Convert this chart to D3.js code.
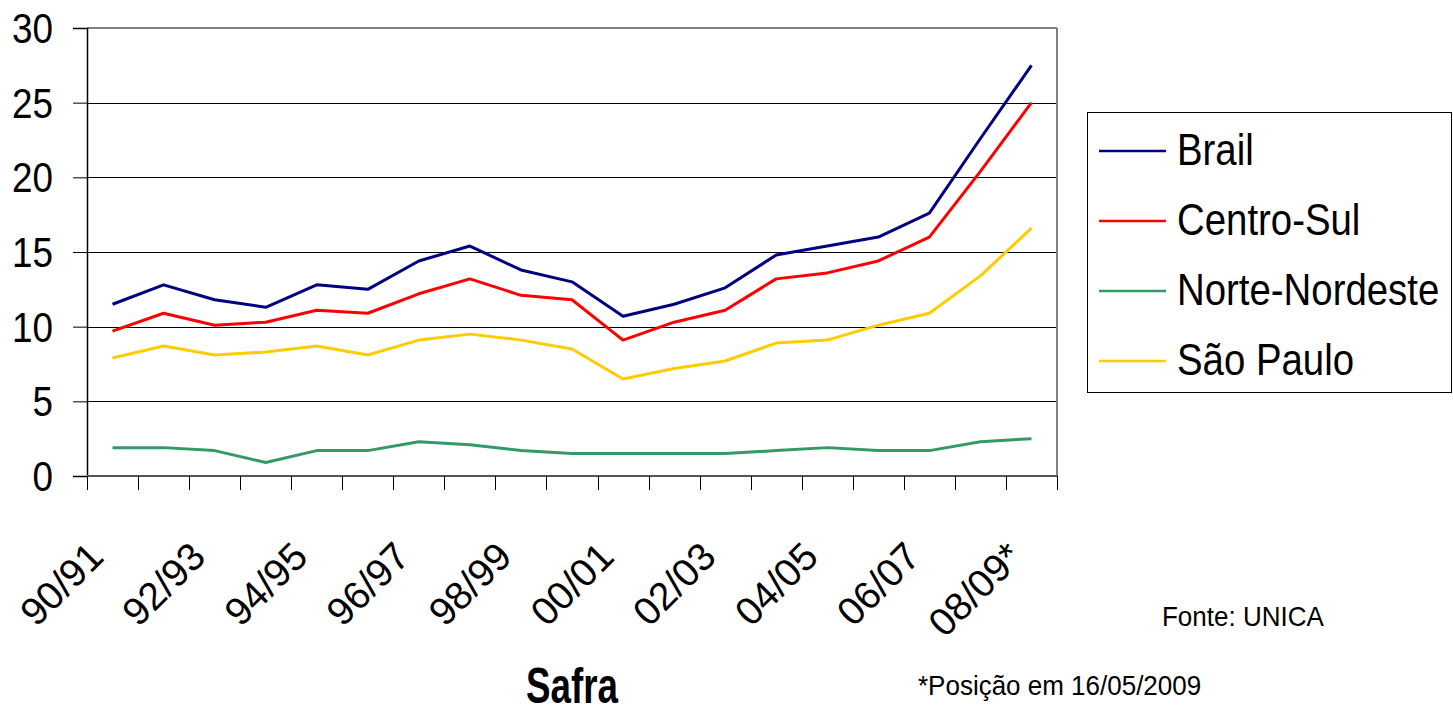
<!DOCTYPE html>
<html><head><meta charset="utf-8">
<script src="https://cdn.jsdelivr.net/npm/d3@7"></script>
<style>body{margin:0;background:#fff;} text{font-family:Arial,"Liberation Sans",sans-serif;fill:#000;}</style>
</head><body>
<svg id="chart" width="1453" height="715"></svg>
<script>
const categories = ["90/91","91/92","92/93","93/94","94/95","95/96","96/97","97/98","98/99","99/00","00/01","01/02","02/03","03/04","04/05","05/06","06/07","07/08","08/09*"];
const brasil        = [11.5, 12.8, 11.8, 11.3, 12.8, 12.5, 14.4, 15.4, 13.8, 13.0, 10.7, 11.5, 12.6, 14.8, 15.4, 16.0, 17.6, 22.6, 27.5];
const centroSul     = [9.7, 10.9, 10.1, 10.3, 11.1, 10.9, 12.2, 13.2, 12.1, 11.8, 9.1, 10.3, 11.1, 13.2, 13.6, 14.4, 16.0, 20.4, 25.0];
const norteNordeste = [1.9, 1.9, 1.7, 0.9, 1.7, 1.7, 2.3, 2.1, 1.7, 1.5, 1.5, 1.5, 1.5, 1.7, 1.9, 1.7, 1.7, 2.3, 2.5];
const saoPaulo      = [7.9, 8.7, 8.1, 8.3, 8.7, 8.1, 9.1, 9.5, 9.1, 8.5, 6.5, 7.2, 7.7, 8.9, 9.1, 10.1, 10.9, 13.4, 16.6];
const seriesNames   = ["Brail", "Centro-Sul", "Norte-Nordeste", "São Paulo"];
const seriesColors  = ["#000080", "#FF0000", "#339966", "#FFCC00"];
const yTicks        = [0, 5, 10, 15, 20, 25, 30];
const xLabelShown   = ["90/91","92/93","94/95","96/97","98/99","00/01","02/03","04/05","06/07","08/09*"];
const xTitle = "Safra";
const sourceNote = "Fonte: UNICA";
const dateNote = "*Posição em 16/05/2009";

const seriesData = [brasil, centroSul, norteNordeste, saoPaulo];
const svg = d3.select("#chart");
const L = 87, R = 1057, T = 28, B = 476;
const x = d3.scaleBand().domain(categories).range([L, R]);
const y = d3.scaleLinear().domain([0, 30]).range([B, T]);

function sText(g, px, py, str, size, sx, sy, anchor, weight) {
  return g.append("text")
    .attr("transform", `translate(${px},${py}) scale(${sx},${sy})`)
    .attr("text-anchor", anchor || "start")
    .style("font-size", size + "px")
    .style("font-weight", weight || "normal")
    .text(str);
}

// gridlines
svg.append("g").selectAll("line").data(yTicks.filter(t => t > 0 && t < 30)).join("line")
  .attr("x1", L).attr("x2", R).attr("y1", d => Math.round(y(d)) + 0.5).attr("y2", d => Math.round(y(d)) + 0.5)
  .attr("stroke", "#000").attr("stroke-width", 1);
// top and right border
svg.append("line").attr("x1", L).attr("x2", R).attr("y1", y(30)).attr("y2", y(30)).attr("stroke", "#808080").attr("stroke-width", 2);
svg.append("line").attr("x1", R).attr("x2", R).attr("y1", y(30)).attr("y2", y(0)).attr("stroke", "#808080").attr("stroke-width", 2);

// y axis
const yAxis = svg.append("g").attr("transform", `translate(${L},0)`)
  .call(d3.axisLeft(y).tickValues(yTicks).tickSize(14).tickFormat(""));
yAxis.select(".domain").attr("stroke", "#000").attr("stroke-width", 1.5);
yAxis.selectAll(".tick line").attr("stroke", "#000");
const yl = svg.append("g");
yTicks.forEach(t => sText(yl, 53, y(t) + 15, String(t), 38, 0.97, 1.1, "end"));

// x axis
svg.append("line").attr("x1", L).attr("x2", R).attr("y1", y(0)).attr("y2", y(0)).attr("stroke", "#555").attr("stroke-width", 2);
const tickXs = categories.map(c => x(c)).concat([x.range()[1]]);
svg.append("g").selectAll("line").data(tickXs).join("line")
  .attr("x1", d => Math.round(d) + 0.5).attr("x2", d => Math.round(d) + 0.5)
  .attr("y1", y(0)).attr("y2", y(0) + 14).attr("stroke", "#000");
svg.append("g").selectAll("text").data(xLabelShown).join("text")
  .attr("transform", d => `translate(${x(d) + x.bandwidth() / 2 - 7},559) rotate(-45)`)
  .attr("text-anchor", "end")
  .style("font-size", "39px")
  .text(d => d);

// lines
const line = d3.line().x((d, i) => x(categories[i]) + x.bandwidth() / 2).y(d => y(d));
svg.append("g").selectAll("path").data(seriesData).join("path")
  .attr("d", d => line(d)).attr("fill", "none")
  .attr("stroke", (d, i) => seriesColors[i]).attr("stroke-width", 3)
  .attr("stroke-linejoin", "round");

// legend
const lg = svg.append("g");
lg.append("rect").attr("x", 1087.5).attr("y", 112.5).attr("width", 364).attr("height", 280)
  .attr("fill", "#fff").attr("stroke", "#000").attr("stroke-width", 1);
seriesNames.forEach((n, i) => {
  const cy = 151 + i * 70;
  lg.append("line").attr("x1", 1099).attr("x2", 1166).attr("y1", cy).attr("y2", cy)
    .attr("stroke", seriesColors[i]).attr("stroke-width", 2.5);
  sText(lg, 1177, cy + 14, n, 38, 1.01, 1.16, "start");
});

// titles and notes
sText(svg, 572, 703, xTitle, 40, 0.92, 1.25, "middle", "bold");
sText(svg, 1162, 626, sourceNote, 26, 1.0, 1.08, "start");
sText(svg, 918, 695, dateNote, 26, 1.0, 1.08, "start");
</script>
</body></html>
